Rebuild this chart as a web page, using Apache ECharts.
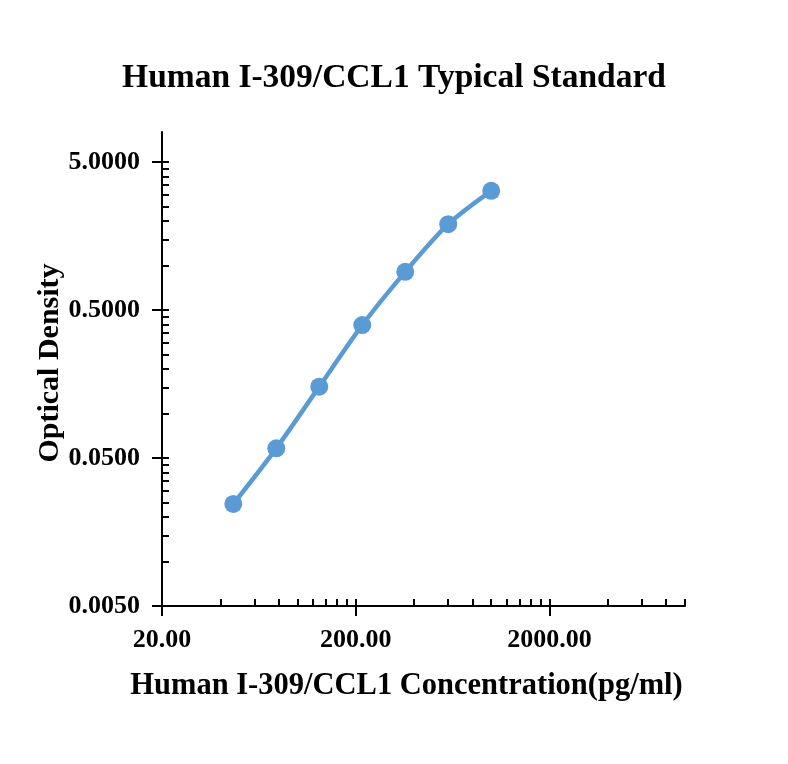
<!DOCTYPE html>
<html>
<head>
<meta charset="utf-8">
<script src="https://cdn.jsdelivr.net/npm/echarts@6/dist/echarts.min.js"></script>
<style>
  html, body { margin: 0; padding: 0; background: #fff; }
  #main { width: 788px; height: 764px; }
</style>
</head>
<body>
<div id="main"></div>
<script>
// standard curve values
var concentration = [46.656, 77.76, 129.6, 216, 360, 600, 1000];
var density = [0.0245, 0.0582, 0.152, 0.396, 0.907, 1.905, 3.20];

// tick positions (data units)
var xMajor = [20, 200, 2000];
var xMinor = [40, 60, 80, 100, 120, 140, 160, 180,
              400, 600, 800, 1000, 1200, 1400, 1600, 1800,
              4000, 6000, 8000, 10000];
var yMajor = [0.005, 0.05, 0.5, 5];
var yMinor = [0.01, 0.015, 0.02, 0.025, 0.03, 0.035, 0.04, 0.045,
              0.1, 0.15, 0.2, 0.25, 0.3, 0.35, 0.4, 0.45,
              1, 1.5, 2, 2.5, 3, 3.5, 4, 4.5];

var xMin = 20, xMax = 10000;
var yMin = 0.005, yMax = 8;

var FONT = '"Liberation Serif", "Times New Roman", serif';
var lg = function (v) { return Math.log10(v); };

var chart = echarts.init(document.getElementById('main'));

// the log axes carry the data, the value axes (log10 units) draw ticks and labels
var option = {
    backgroundColor: '#fff',
    title: {
        text: 'Human I-309/CCL1 Typical Standard',
        left: 'center',
        top: 56,
        padding: [5, 12, 5, 5],
        textStyle: { fontFamily: FONT, fontSize: 33.5, fontWeight: 'bold', color: '#000' }
    },
    grid: { left: 162, right: 103, top: 132, bottom: 158 },
    xAxis: [
        { type: 'log', min: xMin, max: xMax, show: false },
        {
            type: 'value', min: lg(xMin), max: lg(xMax), position: 'bottom',
            splitLine: { show: false },
            axisLine: { onZero: false, lineStyle: { color: '#000', width: 2 } },
            axisTick: { customValues: xMajor.map(lg), length: 10, lineStyle: { color: '#000', width: 2 } },
            axisLabel: {
                customValues: xMajor.map(lg), margin: 21, color: '#000',
                fontFamily: FONT, fontSize: 26, fontWeight: 'bold',
                formatter: function (v) { return Math.pow(10, v).toFixed(2); }
            },
            name: 'Human I-309/CCL1 Concentration(pg/ml)',
            nameLocation: 'middle', nameGap: 65,
            nameTextStyle: { fontFamily: FONT, fontSize: 30.5, fontWeight: 'bold', color: '#000',
                             padding: [0, 34, 0, 0] }
        },
        {
            type: 'value', min: lg(xMin), max: lg(xMax), position: 'bottom',
            splitLine: { show: false },
            axisLine: { show: false, onZero: false },
            axisTick: { inside: true, customValues: xMajor.concat(xMinor).map(lg), length: 7,
                        lineStyle: { color: '#000', width: 2 } },
            axisLabel: { show: false }
        }
    ],
    yAxis: [
        { type: 'log', min: yMin, max: yMax, show: false },
        {
            type: 'value', min: lg(yMin), max: lg(yMax), position: 'left',
            splitLine: { show: false },
            axisLine: { show: true, onZero: false, lineStyle: { color: '#000', width: 2 } },
            axisTick: { show: true, customValues: yMajor.map(lg), length: 10, lineStyle: { color: '#000', width: 2 } },
            axisLabel: {
                customValues: yMajor.map(lg), margin: 22, color: '#000',
                fontFamily: FONT, fontSize: 26, fontWeight: 'bold',
                formatter: function (v) { return Math.pow(10, v).toFixed(4); }
            },
            name: 'Optical Density',
            nameLocation: 'middle', nameGap: 97, nameMoveOverlap: false,
            nameTextStyle: { fontFamily: FONT, fontSize: 30, fontWeight: 'bold', color: '#000',
                             padding: [0, 0, 0, 12] }
        },
        {
            type: 'value', min: lg(yMin), max: lg(yMax), position: 'left',
            splitLine: { show: false },
            axisLine: { show: false, onZero: false },
            axisTick: { show: true, inside: true, customValues: yMajor.concat(yMinor).map(lg), length: 7,
                        lineStyle: { color: '#000', width: 2 } },
            axisLabel: { show: false }
        }
    ],
    series: [
        {
            type: 'line',
            xAxisIndex: 0,
            yAxisIndex: 0,
            data: concentration.map(function (c, i) { return [c, density[i]]; }),
            smooth: 0.3,
            symbol: 'circle',
            symbolSize: 18,
            itemStyle: { color: '#5B9BD5' },
            lineStyle: { color: '#5B9BD5', width: 4.5 },
            animation: false
        }
    ]
};
chart.setOption(option);
</script>
</body>
</html>
